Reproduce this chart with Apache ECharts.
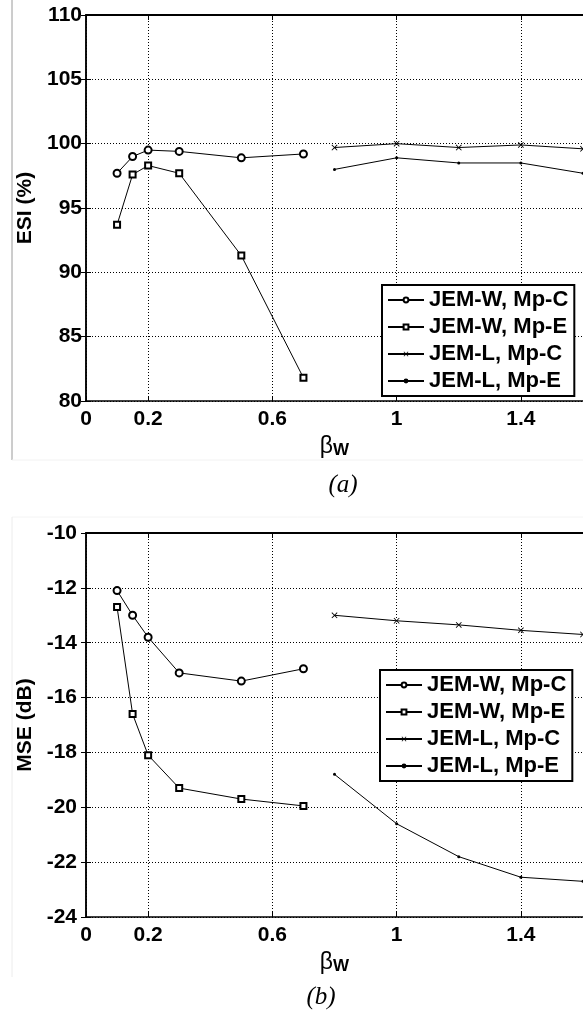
<!DOCTYPE html>
<html>
<head>
<meta charset="utf-8">
<script src="https://cdn.jsdelivr.net/npm/echarts@6/dist/echarts.min.js"></script>
<style>
html,body{margin:0;padding:0;background:#fff;}
#chart{width:583px;height:1014px;}
</style>
</head>
<body>
<div id="chart"></div>
<script>
// ---- data ----
const seriesNames = ['JEM-W, Mp-C', 'JEM-W, Mp-E', 'JEM-L, Mp-C', 'JEM-L, Mp-E'];
const xTickValues = [0, 0.2, 0.6, 1, 1.4];
const betaW_W = [0.1, 0.15, 0.2, 0.3, 0.5, 0.7];
const betaW_L = [0.8, 1.0, 1.2, 1.4, 1.6];
// (a) ESI (%)
const esi_W_C = [97.7, 99.0, 99.5, 99.4, 98.9, 99.2];
const esi_W_E = [93.7, 97.6, 98.3, 97.7, 91.3, 81.8];
const esi_L_C = [99.7, 100.0, 99.7, 99.9, 99.6];
const esi_L_E = [98.0, 98.9, 98.5, 98.5, 97.7];
// (b) MSE (dB)
const mse_W_C = [-12.1, -13.0, -13.8, -15.1, -15.4, -14.95];
const mse_W_E = [-12.7, -16.6, -18.1, -19.3, -19.7, -19.95];
const mse_L_C = [-13.0, -13.2, -13.35, -13.55, -13.7];
const mse_L_E = [-18.8, -20.6, -21.8, -22.55, -22.7];

const FONT = '"Liberation Sans", Arial, Helvetica, sans-serif';
const SERIF = '"Liberation Serif", "Times New Roman", serif';
const xPath = 'path://M0,1L1,0L5,4L9,0L10,1L6,5L10,9L9,10L5,6L1,10L0,9L4,5Z';
const markers = [
  {symbol: 'emptyCircle', symbolSize: 7},
  {symbol: 'emptyRect', symbolSize: 6},
  {symbol: xPath, symbolSize: 6},
  {symbol: 'circle', symbolSize: 3}
];

function pairs(xs, ys) { return xs.map((x, i) => [x, ys[i]]); }

const chart = echarts.init(document.getElementById('chart'), null, {renderer: 'canvas'});

const dotted = {show: true, lineStyle: {color: '#000', width: 1, type: [1, 2]}};

function xMain(gi) {
  return {
    type: 'value', gridIndex: gi, position: 'bottom', min: 0, max: 1.6,
    axisLine: {show: true, lineStyle: {color: '#000', width: 1.5}},
    axisTick: {show: true, inside: true, length: 5, customValues: xTickValues, lineStyle: {color: '#000'}},
    axisLabel: {show: true, customValues: xTickValues, margin: 8, color: '#000',
      fontFamily: FONT, fontWeight: 'bold', fontSize: 21},
    splitLine: dotted,
    name: '{b|β}{w|W}', nameLocation: 'middle', nameGap: 28,
    nameTextStyle: {rich: {
      b: {fontFamily: FONT, fontSize: 23, color: '#000', verticalAlign: 'top', lineHeight: 24},
      w: {fontFamily: FONT, fontSize: 17, fontWeight: 'bold', color: '#000', verticalAlign: 'bottom', lineHeight: 17, padding: [11, 0, 0, 0]}
    }}
  };
}
function xTop(gi) {
  return {
    type: 'value', gridIndex: gi, position: 'top', min: 0, max: 1.6,
    axisLine: {show: true, lineStyle: {color: '#000', width: 2}},
    axisTick: {show: true, inside: true, length: 5, customValues: xTickValues, lineStyle: {color: '#000'}},
    axisLabel: {show: false}, splitLine: {show: false}
  };
}
function yMain(gi, min, max, interval, name, margin) {
  return {
    type: 'value', gridIndex: gi, position: 'left', min: min, max: max, interval: interval,
    axisLine: {show: true, lineStyle: {color: '#000', width: 1.5}},
    axisTick: {show: true, inside: true, length: 5, lineStyle: {color: '#000'}},
    axisLabel: {show: true, margin: margin, color: '#000', fontFamily: FONT, fontWeight: 'bold', fontSize: 21},
    splitLine: dotted,
    name: name, nameLocation: 'middle', nameGap: 47,
    nameTextStyle: {fontFamily: FONT, fontWeight: 'bold', fontSize: 21, color: '#000'}
  };
}
function yRight(gi, min, max, interval) {
  return {
    type: 'value', gridIndex: gi, position: 'right', min: min, max: max, interval: interval,
    axisLine: {show: true, lineStyle: {color: '#000', width: 1.5}},
    axisTick: {show: true, inside: true, length: 5, lineStyle: {color: '#000'}},
    axisLabel: {show: false}, splitLine: {show: false}
  };
}

function makeSeries(xi, yi, dataSets) {
  return dataSets.map((d, i) => ({
    name: seriesNames[i], type: 'line', xAxisIndex: xi, yAxisIndex: yi,
    data: d, symbol: markers[i].symbol, symbolSize: markers[i].symbolSize,
    showAllSymbol: true, clip: false,
    lineStyle: {color: '#000', width: 1},
    itemStyle: {color: '#000', borderWidth: 1},
    emphasis: {disabled: true}, animation: false
  }));
}

function legendAt(left, top) {
  return {
    orient: 'vertical', left: left, top: top, data: seriesNames,
    backgroundColor: '#fff', borderColor: '#000', borderWidth: 2, borderRadius: 0,
    padding: [4, 6, 4, 5], itemGap: 5, itemWidth: 36, itemHeight: 6,
    selectedMode: false,
    textStyle: {fontFamily: FONT, fontWeight: 'bold', fontSize: 22, color: '#000', lineHeight: 22}
  };
}

const option = {
  animation: false,
  backgroundColor: '#fff',
  grid: [
    {left: 86, top: 15, width: 497, height: 386, show: false},
    {left: 86, top: 533, width: 497, height: 384, show: false}
  ],
  xAxis: [xMain(0), xTop(0), xMain(1), xTop(1)],
  yAxis: [
    yMain(0, 80, 110, 5, 'ESI (%)', 4),
    yRight(0, 80, 110, 5),
    yMain(1, -24, -10, 2, 'MSE (dB)', 9),
    yRight(1, -24, -10, 2)
  ],
  legend: [legendAt(382, 285), legendAt(380, 670)],
  series: [].concat(
    makeSeries(0, 0, [pairs(betaW_W, esi_W_C), pairs(betaW_W, esi_W_E), pairs(betaW_L, esi_L_C), pairs(betaW_L, esi_L_E)]),
    makeSeries(2, 2, [pairs(betaW_W, mse_W_C), pairs(betaW_W, mse_W_E), pairs(betaW_L, mse_L_C), pairs(betaW_L, mse_L_E)])
  ),
  graphic: [
    {type: 'line', shape: {x1: 12, y1: 0, x2: 12, y2: 460}, style: {stroke: '#9a9a9a', lineWidth: 1}, silent: true},
    {type: 'line', shape: {x1: 12, y1: 460, x2: 583, y2: 460}, style: {stroke: '#f2f2f2', lineWidth: 1}, silent: true},
    {type: 'line', shape: {x1: 12, y1: 517, x2: 583, y2: 517}, style: {stroke: '#f4f4f4', lineWidth: 1}, silent: true},
    {type: 'line', shape: {x1: 12, y1: 517, x2: 12, y2: 977}, style: {stroke: '#ececec', lineWidth: 1}, silent: true},
    {type: 'text', x: 343, y: 485, style: {text: '(a)', font: 'italic 25px ' + SERIF, fill: '#000', textAlign: 'center', textVerticalAlign: 'middle'}, silent: true},
    {type: 'text', x: 321, y: 997, style: {text: '(b)', font: 'italic 25px ' + SERIF, fill: '#000', textAlign: 'center', textVerticalAlign: 'middle'}, silent: true}
  ]
};
chart.setOption(option);
</script>
</body>
</html>
